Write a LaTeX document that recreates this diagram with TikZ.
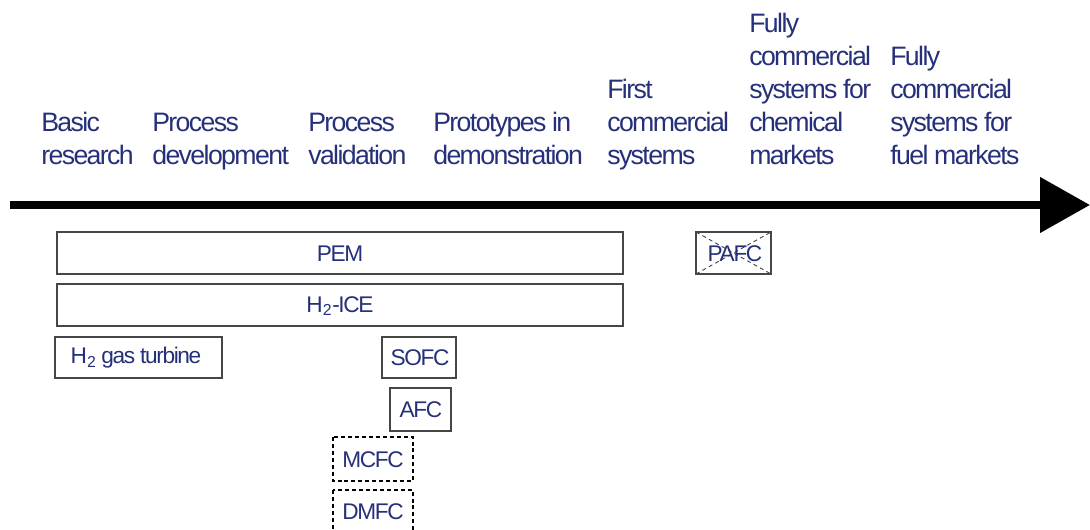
\documentclass[tikz,border=0pt]{standalone}
\usepackage{fontspec}
\setmainfont{Liberation Sans}[LetterSpace=-6]
\usetikzlibrary{arrows.meta}
\definecolor{txt}{RGB}{38,48,122}
\definecolor{edge}{RGB}{70,70,70}
\tikzset{
  hdr/.style={anchor=base west,inner sep=0pt,text=txt,font=\fontsize{20pt}{24.75pt}\selectfont},
  boxlbl/.style={inner sep=0pt,text=txt,font=\fontsize{17pt}{19pt}\selectfont},
  tbox/.style={draw=edge,line width=0.9pt,fill=none},
  dbox/.style={draw=black,line width=1.3pt,dash pattern=on 3pt off 2.2pt},
}
\begin{document}
\begin{tikzpicture}[x=0.75pt,y=-0.75pt]
\useasboundingbox (0,0) rectangle (1090,530);
\clip (0,0) rectangle (1090,530);
% headers
\node[hdr] (c1a) at (41,132) {Basic};
\node[hdr] (c1b) at (41,165) {research};
\node[hdr] (c2a) at (152,132) {Process};
\node[hdr] (c2b) at (152,165) {development};
\node[hdr] (c3a) at (308,132) {Process};
\node[hdr] (c3b) at (308,165) {validation};
\node[hdr] (c4a) at (433,132) {Prototypes in};
\node[hdr] (c4b) at (433,165) {demonstration};
\node[hdr] (c5a) at (607,99) {First};
\node[hdr] (c5b) at (607,132) {commercial};
\node[hdr] (c5c) at (607,165) {systems};
\node[hdr] (c6a) at (749,33) {Fully};
\node[hdr] (c6b) at (749,66) {commercial};
\node[hdr] (c6c) at (749,99) {systems for};
\node[hdr] (c6d) at (749,132) {chemical};
\node[hdr] (c6e) at (749,165) {markets};
\node[hdr] (c7a) at (890,66) {Fully};
\node[hdr] (c7b) at (890,99) {commercial};
\node[hdr] (c7c) at (890,132) {systems for};
\node[hdr] (c7d) at (890,165) {fuel markets};
% timeline arrow
\coordinate (astart) at (10,205);
\coordinate (aend) at (1090,205);
\draw[line width=6pt,-{Triangle[length=37.5pt,width=40.5pt]}] (astart) -- (aend);
% boxes
\draw[tbox] (57,232) rectangle (623,274);
\node[boxlbl] (pem) at (340,254) {PEM};
\draw[tbox] (57,284) rectangle (623,326);
\node[boxlbl] (ice) at (340,306) {H\textsubscript{2}-ICE};
\draw[tbox] (55,337) rectangle (222,378);
\node[boxlbl] (gt) at (136,358) {H\textsubscript{2} gas turbine};
\draw[tbox] (382,337) rectangle (456,378);
\node[boxlbl] (sofc) at (420,358) {SOFC};
\draw[tbox] (390,388) rectangle (451,431);
\node[boxlbl] (afc) at (421,410) {AFC};
\draw[dbox] (333,437) rectangle (413,481);
\node[boxlbl] (mcfc) at (373,460) {MCFC};
\draw[dbox] (333,490) rectangle (413,536);
\node[boxlbl] (dmfc) at (373,512) {DMFC};
\draw[tbox] (696,232) rectangle (771,274);
\draw[edge,line width=0.7pt,dash pattern=on 3pt off 2.5pt] (696,232) -- (771,274) (696,274) -- (771,232);
\node[boxlbl] (pafc) at (735,254) {PAFC};
\end{tikzpicture}
\end{document}
